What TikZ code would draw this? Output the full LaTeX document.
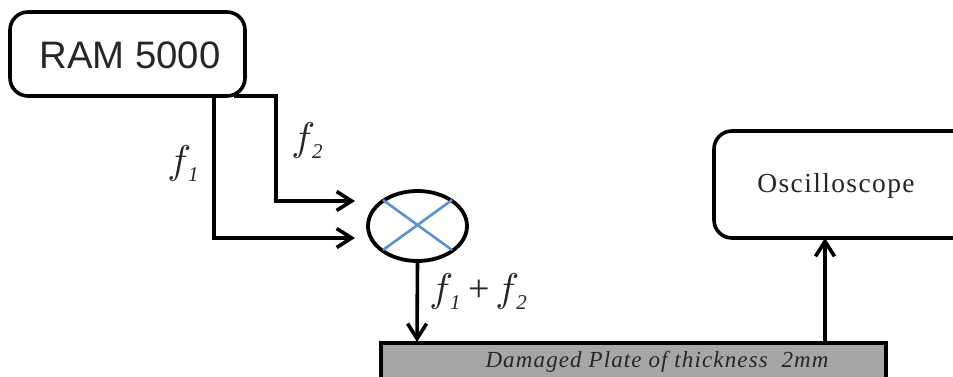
\documentclass[tikz,border=0pt]{standalone}
\usepackage{fontspec}
\setmainfont{Liberation Serif}
\setsansfont{Liberation Sans}
\newfontfamily\spacedserif[LetterSpace=5]{Liberation Serif}
\newfontfamily\spacedital[LetterSpace=4.9,ItalicFont={Liberation Serif Italic}]{Liberation Serif}
\usetikzlibrary{arrows.meta,shapes.geometric}
\definecolor{crossblue}{HTML}{5B92CC}
\definecolor{plategrey}{HTML}{A6A6A6}
\definecolor{inktext}{HTML}{262626}
\newcommand{\fsub}[1]{\scalebox{4}{\fontsize{10}{12}\selectfont$f$}\kern-3pt\raisebox{-8pt}{\fontsize{21}{24}\selectfont\textit{#1}}}
\tikzset{
  x=1pt,y=-1pt,
  every node/.style={inner sep=0pt,outer sep=0pt},
  devicebox/.style={draw=black,line width=3.6pt,rounded corners=18pt,fill=white},
  wire/.style={draw=black,line width=3.6pt},
  arrowwire/.style={wire,-{Straight Barb[length=15pt,width=19pt,line width=3.6pt]}},
  crossline/.style={draw=crossblue,line width=2.6pt},
  flabel/.style={font=\fontsize{38}{40}\selectfont,text=inktext}
}
\begin{document}
\begin{tikzpicture}
\useasboundingbox (0,0) rectangle (953,377);
\clip (0,0) rectangle (953,377);
\fill[white] (0,0) rectangle (953,377);
% boxes
\node[devicebox,minimum width=235pt,minimum height=84pt] (ram) at (127.5,54) {};
\node[font=\sffamily\fontsize{38.3}{40}\selectfont,text=inktext] (ramtext) at (130,55) {RAM 5000};
\path[devicebox] (990,131) -- (714,131) -- (714,238) -- (990,238);
\node[font=\spacedserif\fontsize{27.5}{30}\selectfont,text=inktext] (osc) at (836,186) {Oscilloscope};
\coordinate (oscbottom) at (825,238);
\path[draw=black,line width=3.6pt,fill=plategrey] (381,400) -- (381,343) -- (886,343) -- (886,400);
\node[font=\spacedital\itshape\fontsize{23}{26}\selectfont,text=inktext] (plate) at (657,362) {Damaged Plate of thickness\ \ 2mm};
\coordinate (platein) at (417,342);
\coordinate (plateout) at (825,342);
% mixer
\node[draw=black,line width=3.8pt,ellipse,minimum width=99pt,minimum height=70pt,fill=white] (mix) at (417.5,226) {};
\draw[crossline] (383,200) -- (452,250);
\draw[crossline] (452,200) -- (383,250);
% connectors
\coordinate (ramf1) at (214,95);
\coordinate (ramf2) at (234,96);
\coordinate (in1) at (355,238);
\coordinate (in2) at (355,201);
\draw[arrowwire] (ramf1) -- (214,238) -- (in1);
\draw[arrowwire] (ramf2) -- (276,96) -- (276,201) -- (in2);
\draw[arrowwire] (mix.south) -- (platein);
\draw[arrowwire] (plateout) -- (oscbottom);
% labels
\node[flabel] (f1) at (183,164) {\fsub{1}};
\node[flabel] (f2) at (307,141) {\fsub{2}};
\node[flabel] (sum) at (478,292) {\fsub{1}\kern0.2em{\upshape +}\kern0.15em\fsub{2}};
\end{tikzpicture}
\end{document}
